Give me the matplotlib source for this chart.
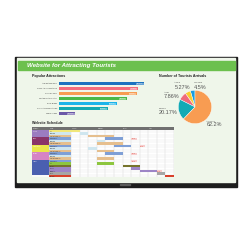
import matplotlib
matplotlib.use('Agg')
import matplotlib.pyplot as plt
from matplotlib.patches import Rectangle

plt.rcParams['font.family'] = ['Liberation Sans', 'DejaVu Sans']

# popular attractions, share of visitors (%)
attractions = ['Aria National Park', 'Grove Amusement Park', 'Cascade Falls',
               'Multiple Historic Sites', 'River Bridge', 'Ocean Amusement Park',
               'Maple Village']
attraction_share = [86.2, 79.6, 78.4, 68.5, 58.3, 49.2, 16.4]
bar_colors = ['#1b72c0', '#f26d7d', '#f89c52', '#4bb848', '#1cb4ea', '#12a9b2', '#6b58a8']

# tourist arrivals by region (%)
regions = ['Oceania', 'Africa', 'Asia', 'Europe', 'America']
arrivals = [4.5, 5.27, 7.86, 20.17, 62.2]
pie_colors = ['#1a9de0', '#f9cd2f', '#ef6b7b', '#13aab5', '#f89c52']

# website schedule (3 columns per month)
months = ['January', 'February', 'March', 'April']
sections = ['Tourism', 'Nature', 'Amusement', 'Heritage', 'Launch']
section_rows = [3, 3, 3, 3, 6]
tasks = ['Top',
         'Overview', 'Content planning', 'Web design',
         'Overview', 'Content planning', 'Web design',
         'Overview', 'Content planning', 'Web design',
         'Overview', 'Content planning', 'Web design',
         'Test', 'Release', 'Review', 'Promotion', 'Report', 'Renewal']
task_start = [0, 1, 2, 4, 3, 3, 5, 2, 3, 4, 0, 3, 0, 3, 6, 7, 8, 10, 11]
task_len = [1, 1, 3, 2, 1, 3, 2, 1, 2, 2, 0, 2, 0, 2, 2, 1, 2, 1, 1]
check_row = [3, 6, 9, 12, 16]
check_col = [7, 8, 7, 7, 10]

task_colors = ['#f1e77a',
               '#cfe6ef', '#e6bf8e', '#7f9fd6',
               '#cfe6ef', '#e6bf8e', '#7f9fd6',
               '#cfe6ef', '#e6bf8e', '#7f9fd6',
               '#cfe6ef', '#e6bf8e', '#7f9fd6',
               '#8dc63f', '#76742c', '#9d85c6', '#9d85c6', '#a6a6a6', '#d9402b']
section_colors = ['#9b7cc0', '#8a3468', '#e9e64a', '#d684c4', '#4a5fb0']


def box(x0, y0, x1, y1):
    # pixel box (top-left origin) -> figure fraction rect
    return [x0 / 250, 1 - y1 / 250, (x1 - x0) / 250, (y1 - y0) / 250]


def panel(x0, y0, x1, y1, color):
    b = box(x0, y0, x1, y1)
    fig.add_artist(Rectangle(b[:2], b[2], b[3], transform=fig.transFigure,
                             color=color, zorder=0))


def clean(ax):
    ax.set_xticks([])
    ax.set_yticks([])
    for s in ax.spines.values():
        s.set_visible(False)


fig = plt.figure(figsize=(2.5, 2.5), dpi=100)
fig.patch.set_facecolor('white')

# monitor frame, screen and title bar
panel(15, 56.5, 237, 186.5, '#1d1d1d')
panel(16.5, 58, 235.5, 182, '#eff6ea')
panel(120, 183.8, 130, 184.8, '#5a5a5a')
panel(17.5, 60.5, 235, 69.8, '#6cc04e')
fig.text(27 / 250, 1 - 65.2 / 250, 'Website for Attracting Tourists', color='white',
         fontsize=4.4, fontweight='bold', style='italic', va='center')

fig.text(31.7 / 250, 1 - 76 / 250, 'Popular Attractions', fontsize=2.6,
         fontweight='bold', color='#222222', va='center')
fig.text(159 / 250, 1 - 76 / 250, 'Number of Tourists Arrivals', fontsize=2.6,
         fontweight='bold', color='#222222', va='center')
fig.text(31.7 / 250, 1 - 123.5 / 250, 'Website Schedule', fontsize=2.6,
         fontweight='bold', color='#222222', va='center')

# --- bar chart ---
ax = fig.add_axes(box(59, 81.2, 158, 116.2))
ax.set_facecolor('none')
clean(ax)
ypos = range(len(attractions))
ax.barh(ypos, attraction_share, height=0.6, color=bar_colors)
ax.set_xlim(0, 100)
ax.set_ylim(len(attractions) - 0.5, -0.5)
for i, (name, v) in enumerate(zip(attractions, attraction_share)):
    ax.text(-2, i, name, ha='right', va='center', fontsize=1.4, color='#444444')
    ax.text(v - 1, i, f'{v}%', ha='right', va='center', fontsize=1.6, color='white',
            bbox=dict(boxstyle='square,pad=0.25', fc='white', alpha=0.35, lw=0))

# --- pie chart ---
ax = fig.add_axes(box(178, 90, 212, 124))
ax.pie(arrivals, colors=pie_colors, startangle=90, counterclock=True,
       wedgeprops=dict(linewidth=0.3, edgecolor='white'))
ax.set_xlim(-1.02, 1.02)
ax.set_ylim(-1.02, 1.02)
label_x = [194, 174.5, 164, 158.5, 206.5]
name_y = [82.5, 82.5, 92.3, 108.3, 121]
pct_y = [87.3, 87.3, 96, 112.7, 124.5]
for r, v, lx, ny, py in zip(regions, arrivals, label_x, name_y, pct_y):
    fig.text(lx / 250, 1 - ny / 250, r, fontsize=1.7, color='#555555', va='center')
    fig.text(lx / 250, 1 - py / 250, f'{v}%', fontsize=4.0, color='#555555', va='center')

# --- schedule table ---
ax = fig.add_axes(box(32, 127.3, 174, 177.3))
ax.set_facecolor('white')
clean(ax)
ncol = len(months) * 3
left = -4.55
ax.set_xlim(left, ncol)
ax.set_ylim(len(tasks) + 0.5, -0.5)
ax.barh(0, ncol - left, left=left, height=1, color='#707070')
ax.text(left + 0.1, 0, 'Category', fontsize=1.1, color='white', va='center')
ax.text(-2.5, 0, 'Task', fontsize=1.1, color='white', va='center')
for m, name in enumerate(months):
    ax.text(m * 3 + 0.1, 0, name, fontsize=1.1, color='white', va='center')

rows = [i + 1 for i in range(len(tasks))]
ax.barh(rows, 2.56, left=-2.56, height=0.92, color=task_colors)
ax.barh(rows, task_len, left=task_start, height=0.92, color=task_colors)
for r, t in zip(rows, tasks):
    ax.text(-2.5, r, t, fontsize=1.0, color='#333333', va='center')
for r, c in zip(check_row, check_col):
    ax.barh(r + 1, 0.65, left=c, height=0.8, color='#f7cccc')
    ax.text(c + 0.05, r + 1, 'Check', fontsize=0.8, color='#d9402b', va='center')

start = 1
ax.barh(1, 1.99, left=left, height=0.92, color='white')
for name, n, col in zip(sections, section_rows, section_colors):
    ax.barh(start + (n - 1) / 2, 1.99, left=left, height=n, color=col)
    ax.text(left + 0.1, start, name, fontsize=1.0, color='white', va='center')
    start += n

for c in range(ncol + 1):
    ax.axvline(c, color='#cfcfcf', lw=0.3, zorder=0.5)
for r in range(len(tasks) + 1):
    ax.axhline(r + 0.5, color='#e2e2e2', lw=0.25, zorder=0.5)

fig.savefig('out.png', dpi=100)
